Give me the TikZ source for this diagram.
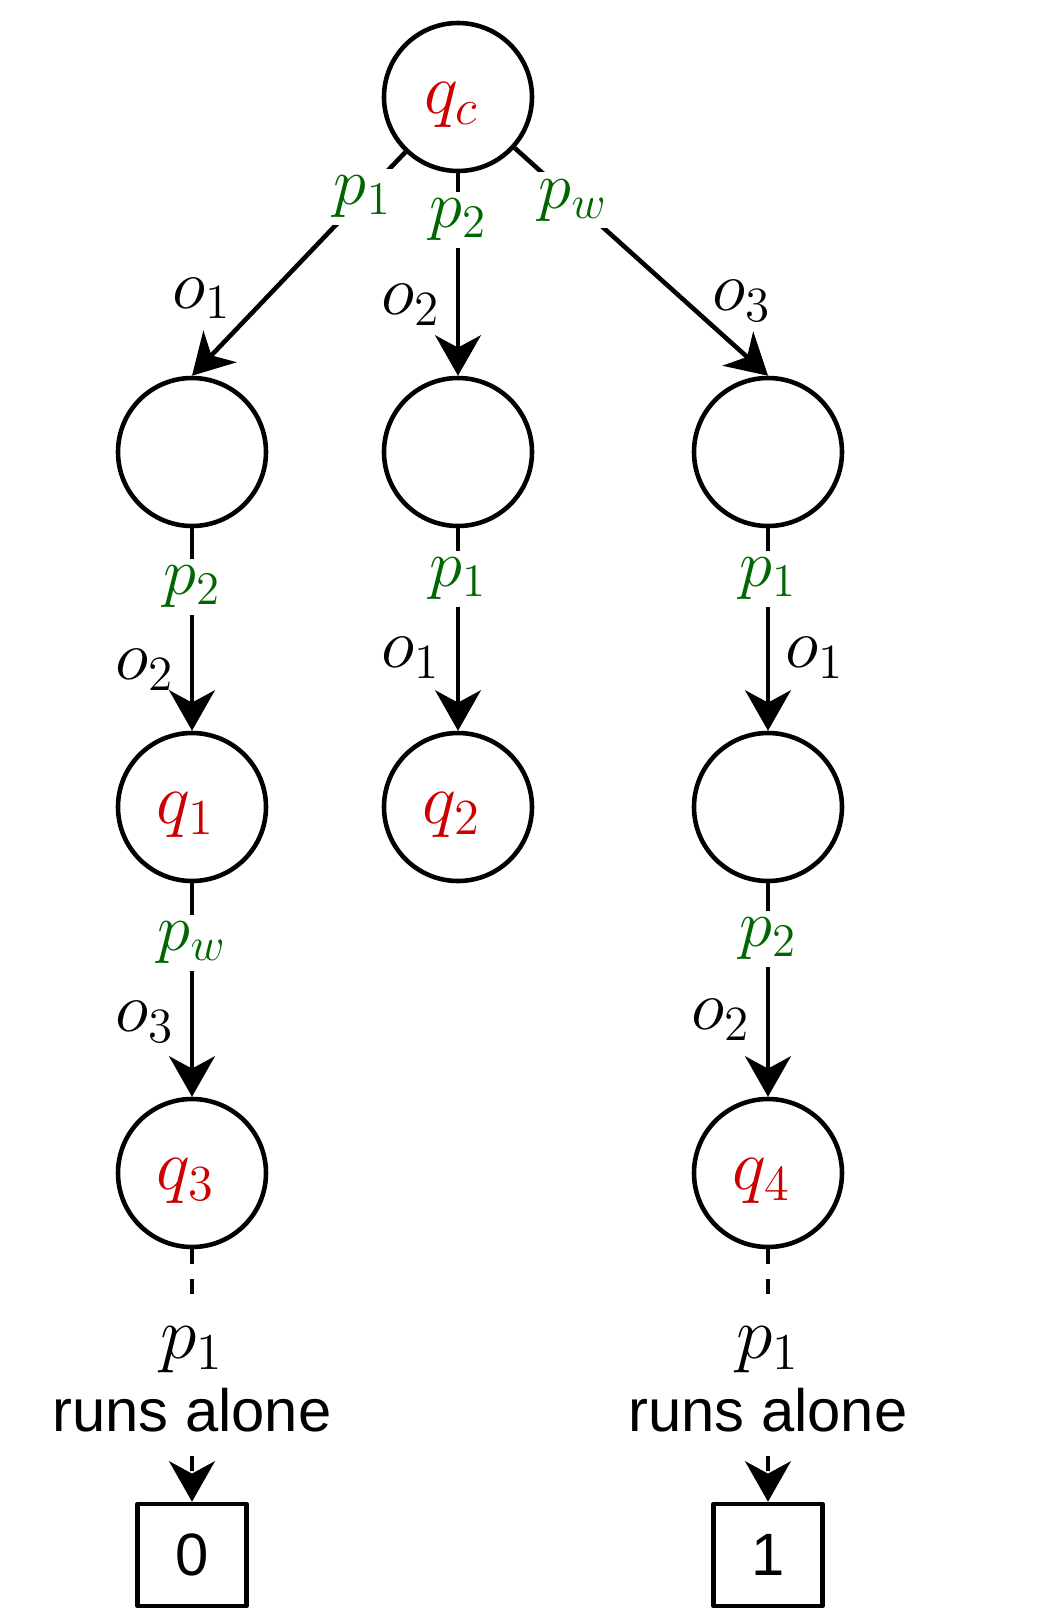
\RequirePackage{fix-cm}
\documentclass[tikz,border=0pt]{standalone}
\usepackage{fontspec}
\setsansfont{Liberation Sans}
\usetikzlibrary{arrows.meta}
\definecolor{qred}{RGB}{204,0,0}
\definecolor{pgreen}{RGB}{0,102,0}
\tikzset{
  state/.style={circle, draw, line width=1.3pt, minimum size=1.48cm, inner sep=0pt,
    text=qred, font=\fontsize{20.5}{24}\selectfont},
  outbox/.style={draw, line width=1.3pt, minimum width=1.09cm, minimum height=1.02cm,
    font=\fontsize{17}{20}\selectfont\sffamily},
  plab/.style={fill=white, inner sep=2pt, text=pgreen, font=\fontsize{19}{23}\selectfont},
  olab/.style={inner sep=1.5pt, font=\fontsize{20}{24}\selectfont},
  alone/.style={fill=white, align=center, inner xsep=2pt, inner ysep=6pt,
    font=\fontsize{17}{20.8}\selectfont\sffamily},
  move/.style={-{Stealth[length=11.5pt,width=13pt,inset=3.5pt]}, line width=1.3pt},
}
\newcommand{\stlab}[1]{\raisebox{-2.3pt}[\height][\depth]{$#1$}\kern3.5pt}
\begin{document}
\begin{tikzpicture}[line join=round]
  \useasboundingbox (0,0) rectangle (10.45,-16.10);
  \node[state] (qc) at (4.58,-0.97) {\stlab{q_c}};
  \node[state] (a1) at (1.92,-4.52) {};
  \node[state] (a2) at (4.58,-4.52) {};
  \node[state] (a3) at (7.68,-4.52) {};
  \node[state] (q1) at (1.92,-8.07) {\stlab{q_1}};
  \node[state] (q2) at (4.58,-8.07) {\stlab{q_2}};
  \node[state] (b3) at (7.68,-8.07) {};
  \node[state] (q3) at (1.92,-11.73) {\stlab{q_3}};
  \node[state] (q4) at (7.68,-11.73) {\stlab{q_4}};
  \node[outbox] (r0) at (1.92,-15.55) {0};
  \node[outbox] (r1) at (7.68,-15.55) {1};

  \draw[move] (qc) -- node[plab, pos=0.2] {$p_1$}
    node[olab, above left, pos=0.78] {$o_1$} (a1.north);
  \draw[move] (qc) -- node[plab, pos=0.23] {$p_2$}
    node[olab, left=2.8pt, pos=0.65] {$o_2$} (a2);
  \draw[move] (qc) -- node[plab, pos=0.23] {$p_w$}
    node[olab, anchor=south west, inner sep=0pt, pos=0.77] {$o_3$} (a3.north);

  \draw[move] (a1) -- node[plab, pos=0.29] {$p_2$}
    node[olab, left=2.8pt, pos=0.70] {$o_2$} (q1);
  \draw[move] (a2) -- node[plab, pos=0.25] {$p_1$}
    node[olab, left=2.8pt, pos=0.64] {$o_1$} (q2);
  \draw[move] (a3) -- node[plab, pos=0.25] {$p_1$}
    node[olab, right=2.8pt, pos=0.64] {$o_1$} (b3);
  \draw[move] (q1) -- node[plab, pos=0.28] {$p_w$}
    node[olab, left=2.8pt, pos=0.65] {$o_3$} (q3);
  \draw[move] (b3) -- node[plab, pos=0.26] {$p_2$}
    node[olab, left=2.8pt, pos=0.64] {$o_2$} (q4);

  \draw[move, dash pattern=on 4.2pt off 4.2pt] (q3) -- node[alone, pos=0.515]
    {{\fontsize{21}{21}\selectfont$p_1$}\\runs alone} (r0);
  \draw[move, dash pattern=on 4.2pt off 4.2pt] (q4) -- node[alone, pos=0.515]
    {{\fontsize{21}{21}\selectfont$p_1$}\\runs alone} (r1);
\end{tikzpicture}
\end{document}
